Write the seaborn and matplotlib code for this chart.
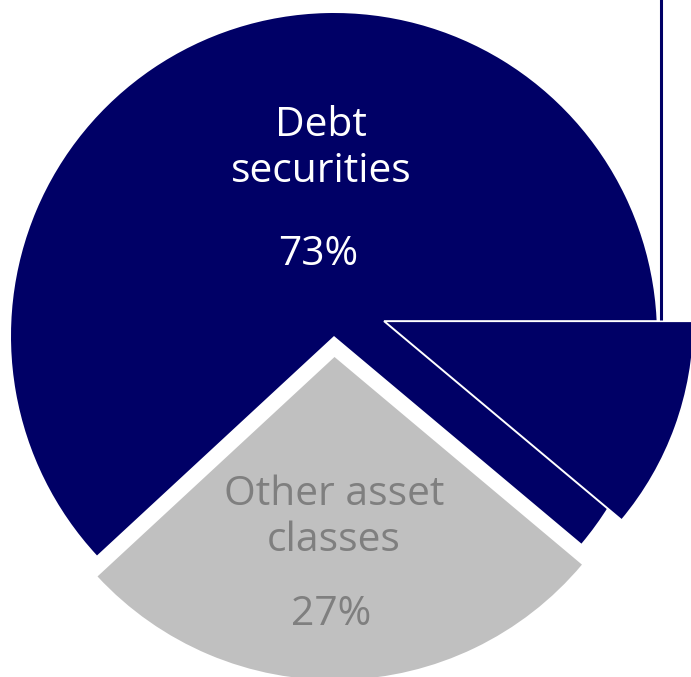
import matplotlib
matplotlib.use("Agg")
import matplotlib.pyplot as plt
import seaborn as sns

# Portfolio split (percent of total)
categories = ["Debt\nsecurities", "Other asset\nclasses"]
shares = [73, 27]
# Slice of debt securities broken out to the bar on the right (percent of total)
breakout_share = 11.1

NAVY = "#000066"
GREY_FILL = "#c0c0c0"
GREY_TEXT = "#7f7f7f"

sns.set_theme(style="white")
plt.rcParams["font.family"] = ["Open Sans", "DejaVu Sans"]

fig = plt.figure(figsize=(6.91, 6.77), dpi=100)
ax = fig.add_axes([0, 0, 1, 1])

# Main pie: debt securities start at -40 deg, "other" slice pulled slightly down
start = -40
wedges, _ = ax.pie(
    shares,
    colors=[NAVY, GREY_FILL],
    startangle=start,
    counterclock=True,
    explode=[0, 0.065],
    radius=1.0,
    wedgeprops=dict(linewidth=0),
)

# Broken-out debt slice, drawn offset towards the bar
hl, _ = ax.pie(
    [breakout_share, 100 - breakout_share],
    colors=[NAVY, "none"],
    startangle=-breakout_share * 3.6,
    center=(0.155, 0.046),
    radius=0.96,
    wedgeprops=dict(edgecolor="white", linewidth=1.4),
)
hl[1].set_visible(False)

# Connector line up to the bar
conn_x = 1.011
ax.plot([conn_x, conn_x], [0.046 + 0.004, 1.2], color=NAVY, lw=2.2,
        solid_capstyle="butt", zorder=3)

# Labels
fs = 29.3
ax.text(-0.04, 0.477, categories[0], color="white", fontsize=fs,
        ha="center", va="baseline", linespacing=1.17)
ax.text(-0.05, 0.220, f"{shares[0]}%", color="white", fontsize=fs,
        ha="center", va="baseline")
ax.text(0.0, -0.666, categories[1], color=GREY_TEXT, fontsize=fs,
        ha="center", va="baseline", linespacing=1.17)
ax.text(-0.01, -0.895, f"{shares[1]}%", color=GREY_TEXT, fontsize=fs,
        ha="center", va="baseline")

ax.set_xlim(-334 / 323, 357 / 323)
ax.set_ylim(-341 / 323, 336 / 323)
ax.set_aspect("auto")
ax.axis("off")

fig.savefig("out.png", dpi=100, facecolor="white")
